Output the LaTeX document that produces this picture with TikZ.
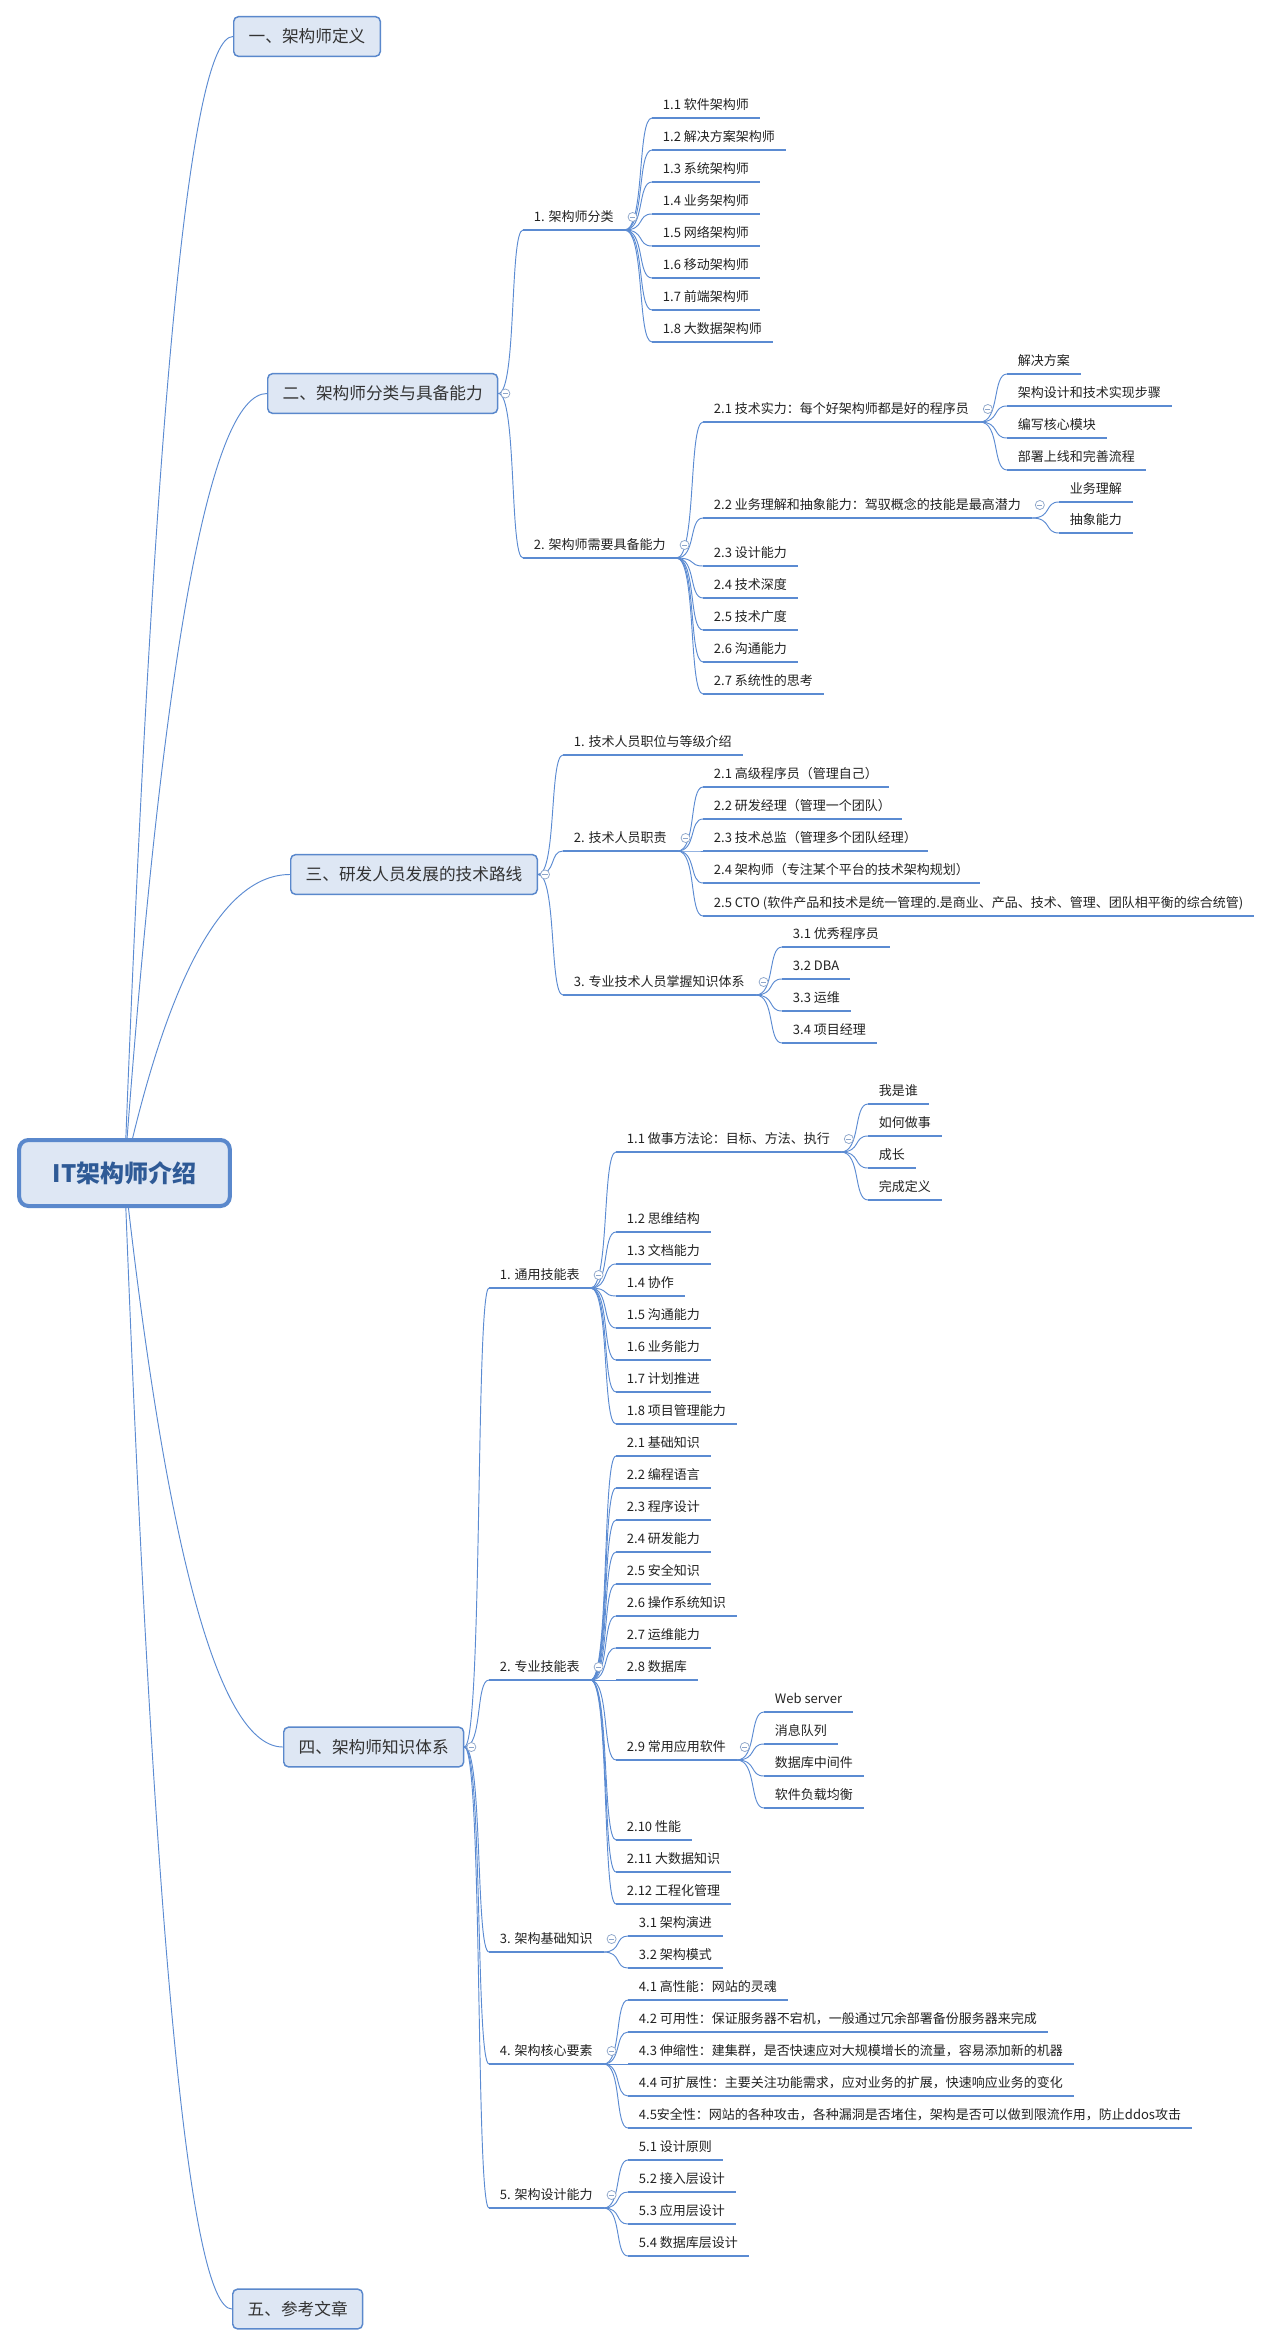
\documentclass[tikz,border=0pt]{standalone}
\usepackage{fontspec}
\setmainfont{Noto Sans CJK SC}
\usetikzlibrary{calc}
\definecolor{lineblue}{HTML}{5B8BD2}
\definecolor{boxfill}{HTML}{DEE7F4}
\definecolor{boxline}{HTML}{5A88CC}
\definecolor{roottxt}{HTML}{2E5A96}
\definecolor{boxtxt}{HTML}{333333}
\definecolor{toptxt}{HTML}{222222}
\definecolor{foldc}{HTML}{8EA6CA}
\pgfdeclarelayer{bg}
\pgfsetlayers{bg,main}
\tikzset{
 topic/.style={anchor=south west, inner xsep=8pt, inner ysep=0pt, text height=9pt, text depth=6pt, font=\fontsize{9.75}{12}\selectfont, text=toptxt},
 uline/.style={draw=lineblue, line width=1.6pt},
 conn/.style={draw=lineblue, line width=0.7pt},
 mainbox/.style={anchor=west, draw=boxline, fill=boxfill, line width=1.1pt, rounded corners=3.5pt, minimum height=29.7pt, inner xsep=11.2pt, inner ysep=0pt, font=\fontsize{12.5}{15}\selectfont, text=boxtxt},
 rootbox/.style={draw=boxline, fill=boxfill, line width=3pt, rounded corners=7pt, minimum width=158pt, minimum height=49.5pt, font=\bfseries\fontsize{18}{22}\selectfont, text=roottxt},
 fold/.style={circle, draw=foldc, fill=white, line width=0.55pt, minimum size=6.8pt, inner sep=0pt, path picture={\draw[foldc, line width=0.55pt] ([xshift=-1.9pt]path picture bounding box.center) -- ([xshift=1.9pt]path picture bounding box.center);}}
}
\newcommand\mytopic[4]{\node[topic] (#1) at (#2,#3) {#4};\draw[uline] (#1.south west) -- (#1.south east);}
\newcommand\subconn[2]{\draw[conn] let \p1=(#1), \p2=(#2) in (\p1) .. controls ({\x1+0.75*(\x2-\x1)},\y1) and ({\x1+0.45*(\x2-\x1)},\y2) .. (\p2);}
\newcommand\rootconn[2]{\draw[conn] let \p1=(#1), \p2=(#2) in (\p1) .. controls ({\x1+0.267*(\x2-\x1)},{\y1+0.667*(\y2-\y1)}) and ({\x1+0.6*(\x2-\x1)},\y2) .. (\p2);}
\newcommand\tfold[1]{\node[fold] (f#1) at ($(#1.south east)+(8,-13)$) {};}
\newcommand\bfold[1]{\node[fold] (f#1) at ($(#1.east)+(7,0)$) {};}
\begin{document}
\begin{tikzpicture}[x=0.75pt, y=-0.75pt]
\useasboundingbox (0,0) rectangle (1278,2347);
% root and main boxes
\node[rootbox] (root) at (124.5,1173) {IT架构师介绍};
\node[mainbox] (b1) at (233,36.5) {一、架构师定义};
\node[mainbox] (b2) at (267,393.5) {二、架构师分类与具备能力};
\node[mainbox] (b3) at (290,874.5) {三、研发人员发展的技术路线};
\node[mainbox] (b4) at (283,1747) {四、架构师知识体系};
\node[mainbox] (b5) at (232,2309) {五、参考文章};
% section 2
\mytopic{a1}{523}{230}{1. 架构师分类}
\mytopic{a11}{652}{118}{1.1 软件架构师}
\mytopic{a12}{652}{150}{1.2 解决方案架构师}
\mytopic{a13}{652}{182}{1.3 系统架构师}
\mytopic{a14}{652}{214}{1.4 业务架构师}
\mytopic{a15}{652}{246}{1.5 网络架构师}
\mytopic{a16}{652}{278}{1.6 移动架构师}
\mytopic{a17}{652}{310}{1.7 前端架构师}
\mytopic{a18}{652}{342}{1.8 大数据架构师}
\mytopic{a2}{523}{558}{2. 架构师需要具备能力}
\mytopic{a21}{703}{422}{2.1 技术实力：每个好架构师都是好的程序员}
\mytopic{a211}{1007}{374}{解决方案}
\mytopic{a212}{1007}{406}{架构设计和技术实现步骤}
\mytopic{a213}{1007}{438}{编写核心模块}
\mytopic{a214}{1007}{470}{部署上线和完善流程}
\mytopic{a22}{703}{518}{2.2 业务理解和抽象能力：驾驭概念的技能是最高潜力}
\mytopic{a221}{1059}{502}{业务理解}
\mytopic{a222}{1059}{533}{抽象能力}
\mytopic{a23}{703}{566}{2.3 设计能力}
\mytopic{a24}{703}{598}{2.4 技术深度}
\mytopic{a25}{703}{630}{2.5 技术广度}
\mytopic{a26}{703}{662}{2.6 沟通能力}
\mytopic{a27}{703}{694}{2.7 系统性的思考}
% section 3
\mytopic{c1}{563}{755}{1. 技术人员职位与等级介绍}
\mytopic{c2}{563}{851}{2. 技术人员职责}
\mytopic{c21}{703}{787}{2.1 高级程序员（管理自己）}
\mytopic{c22}{703}{819}{2.2 研发经理（管理一个团队）}
\mytopic{c23}{703}{851}{2.3 技术总监（管理多个团队经理）}
\mytopic{c24}{703}{883}{2.4 架构师（专注某个平台的技术架构规划）}
\mytopic{c25}{703}{916}{2.5 CTO (软件产品和技术是统一管理的.是商业、产品、技术、管理、团队相平衡的综合统管)}
\mytopic{c3}{563}{995}{3. 专业技术人员掌握知识体系}
\mytopic{c31}{782}{947}{3.1 优秀程序员}
\mytopic{c32}{782}{979}{3.2 DBA}
\mytopic{c33}{782}{1011}{3.3 运维}
\mytopic{c34}{782}{1043}{3.4 项目经理}
% section 4
\mytopic{d1}{489}{1288}{1. 通用技能表}
\mytopic{d11}{616}{1152}{1.1 做事方法论：目标、方法、执行}
\mytopic{d111}{868}{1104}{我是谁}
\mytopic{d112}{868}{1136}{如何做事}
\mytopic{d113}{868}{1168}{成长}
\mytopic{d114}{868}{1200}{完成定义}
\mytopic{d12}{616}{1232}{1.2 思维结构}
\mytopic{d13}{616}{1264}{1.3 文档能力}
\mytopic{d14}{616}{1296}{1.4 协作}
\mytopic{d15}{616}{1328}{1.5 沟通能力}
\mytopic{d16}{616}{1360}{1.6 业务能力}
\mytopic{d17}{616}{1392}{1.7 计划推进}
\mytopic{d18}{616}{1424}{1.8 项目管理能力}
\mytopic{d2}{489}{1680}{2. 专业技能表}
\mytopic{d21}{616}{1456}{2.1 基础知识}
\mytopic{d22}{616}{1488}{2.2 编程语言}
\mytopic{d23}{616}{1520}{2.3 程序设计}
\mytopic{d24}{616}{1552}{2.4 研发能力}
\mytopic{d25}{616}{1584}{2.5 安全知识}
\mytopic{d26}{616}{1616}{2.6 操作系统知识}
\mytopic{d27}{616}{1648}{2.7 运维能力}
\mytopic{d28}{616}{1680}{2.8 数据库}
\mytopic{d29}{616}{1760}{2.9 常用应用软件}
\mytopic{d291}{764}{1712}{Web server}
\mytopic{d292}{764}{1744}{消息队列}
\mytopic{d293}{764}{1776}{数据库中间件}
\mytopic{d294}{764}{1808}{软件负载均衡}
\mytopic{d210}{616}{1840}{2.10 性能}
\mytopic{d211}{616}{1872}{2.11 大数据知识}
\mytopic{d212}{616}{1904}{2.12 工程化管理}
\mytopic{d3}{489}{1952}{3. 架构基础知识}
\mytopic{d31}{628}{1936}{3.1 架构演进}
\mytopic{d32}{628}{1968}{3.2 架构模式}
\mytopic{d4}{489}{2064}{4. 架构核心要素}
\mytopic{d41}{628}{2000}{4.1 高性能：网站的灵魂}
\mytopic{d42}{628}{2032}{4.2 可用性：保证服务器不宕机，一般通过冗余部署备份服务器来完成}
\mytopic{d43}{628}{2064}{4.3 伸缩性：建集群，是否快速应对大规模增长的流量，容易添加新的机器}
\mytopic{d44}{628}{2096}{4.4 可扩展性：主要关注功能需求，应对业务的扩展，快速响应业务的变化}
\mytopic{d45}{628}{2128}{4.5安全性：网站的各种攻击，各种漏洞是否堵住，架构是否可以做到限流作用，防止ddos攻击}
\mytopic{d5}{489}{2208}{5. 架构设计能力}
\mytopic{d51}{628}{2160}{5.1 设计原则}
\mytopic{d52}{628}{2192}{5.2 接入层设计}
\mytopic{d53}{628}{2224}{5.3 应用层设计}
\mytopic{d54}{628}{2256}{5.4 数据库层设计}
% connectors
\begin{pgfonlayer}{bg}
\fill[white] (0,0) rectangle (1278,2347);
\foreach \b in {b1,b2,b3,b4,b5} {\rootconn{root.center}{\b.west}}
\foreach \c in {a1,a2} {\subconn{b2.east}{\c.south west}}
\foreach \i in {1,...,8} {\subconn{a1.south east}{a1\i.south west}}
\foreach \i in {1,...,7} {\subconn{a2.south east}{a2\i.south west}}
\foreach \i in {1,...,4} {\subconn{a21.south east}{a21\i.south west}}
\foreach \i in {1,2} {\subconn{a22.south east}{a22\i.south west}}
\foreach \c in {c1,c2,c3} {\subconn{b3.east}{\c.south west}}
\foreach \i in {1,...,5} {\subconn{c2.south east}{c2\i.south west}}
\foreach \i in {1,...,4} {\subconn{c3.south east}{c3\i.south west}}
\foreach \c in {d1,d2,d3,d4,d5} {\subconn{b4.east}{\c.south west}}
\foreach \i in {1,...,8} {\subconn{d1.south east}{d1\i.south west}}
\foreach \i in {1,...,4} {\subconn{d11.south east}{d11\i.south west}}
\foreach \i in {1,...,12} {\subconn{d2.south east}{d2\i.south west}}
\foreach \i in {1,...,4} {\subconn{d29.south east}{d29\i.south west}}
\foreach \i in {1,2} {\subconn{d3.south east}{d3\i.south west}}
\foreach \i in {1,...,5} {\subconn{d4.south east}{d4\i.south west}}
\foreach \i in {1,...,4} {\subconn{d5.south east}{d5\i.south west}}
\end{pgfonlayer}
% fold markers
\bfold{b2}\bfold{b3}\bfold{b4}
\tfold{a1}\tfold{a2}\tfold{a21}\tfold{a22}
\tfold{c2}\tfold{c3}
\tfold{d1}\tfold{d11}\tfold{d2}\tfold{d29}\tfold{d3}\tfold{d4}\tfold{d5}
\end{tikzpicture}
\end{document}
